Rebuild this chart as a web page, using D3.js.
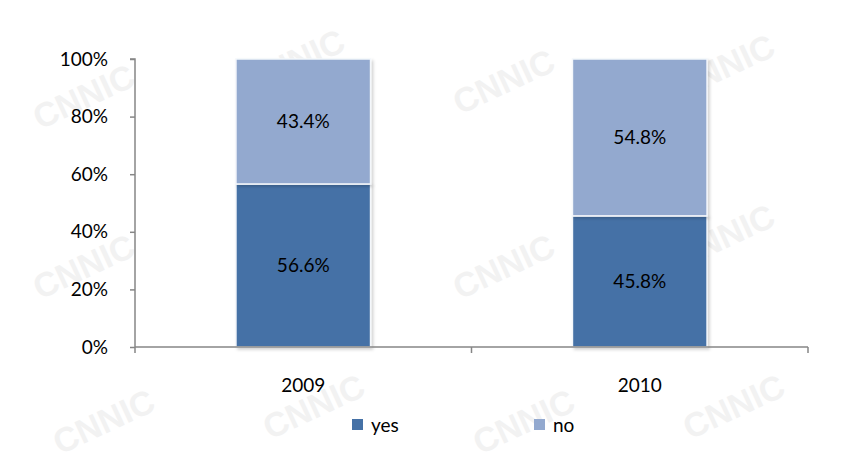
<!DOCTYPE html>
<html>
<head>
<meta charset="utf-8">
<script src="https://cdn.jsdelivr.net/npm/d3@7"></script>
<style>
  html, body { margin: 0; padding: 0; background: #fff; }
  svg { display: block; font-family: Lato, "Open Sans", "Liberation Sans", sans-serif; }
</style>
</head>
<body>
<svg id="chart" width="844" height="461"></svg>
<script>
// Survey answers per year, in percent
const years = ["2009", "2010"];
const yesValues = [56.6, 45.8];
const noValues = [43.4, 54.8];
const seriesNames = ["yes", "no"];
const seriesColors = ["#4571a6", "#93a9cf"];
const yTicks = [0, 20, 40, 60, 80, 100];

const W = 844, H = 461;
const margin = { top: 59, right: 36, bottom: 114, left: 135 };
const innerW = W - margin.left - margin.right;
const innerH = H - margin.top - margin.bottom;
const fontSize = 19;

const svg = d3.select("#chart");

// faint background watermark
const wm = svg.append("g").attr("font-family", "Liberation Sans, sans-serif")
  .attr("font-weight", "bold").attr("font-size", 34).attr("fill", "#f2f2f2");
const wmSpots = [[40, 130], [250, 95], [460, 115], [680, 100],
                 [40, 300], [250, 265], [460, 300], [680, 270],
                 [60, 455], [270, 440], [480, 455], [690, 440]];
wmSpots.forEach(([x, y]) => {
  wm.append("text").attr("transform", `translate(${x},${y}) rotate(-25)`).text("CNNIC");
});

// table of rows for the stack
const rows = years.map((y, i) => ({ year: y, yes: yesValues[i], no: noValues[i] }));
const stacked = d3.stack().keys(seriesNames).offset(d3.stackOffsetExpand)(rows);

const x = d3.scaleBand().domain(years).range([0, innerW]).paddingInner(0.6).paddingOuter(0.3);
const y = d3.scaleLinear().domain([0, 1]).range([innerH, 0]);
const color = d3.scaleOrdinal().domain(seriesNames).range(seriesColors);

const g = svg.append("g").attr("transform", `translate(${margin.left},${margin.top})`);

// bars with a soft drop shadow
const defs = svg.append("defs");
const f = defs.append("filter").attr("id", "shadow").attr("x", "-10%").attr("y", "-10%").attr("width", "130%").attr("height", "130%");
f.append("feDropShadow").attr("dx", 2).attr("dy", 2).attr("stdDeviation", 1.5).attr("flood-color", "#000").attr("flood-opacity", 0.18);

const layers = g.selectAll(".layer").data(stacked).join("g")
  .attr("class", "layer").attr("fill", d => color(d.key));

layers.selectAll("rect").data(d => d).join("rect")
  .attr("x", d => x(d.data.year))
  .attr("y", d => y(d[1]))
  .attr("width", x.bandwidth())
  .attr("height", d => y(d[0]) - y(d[1]))
  .attr("stroke", "#f4f7fb")
  .attr("stroke-width", 1.5)
  .attr("filter", "url(#shadow)");

// value labels
layers.selectAll("text").data(d => d.map(v => ({ v, key: d.key }))).join("text")
  .attr("x", d => x(d.v.data.year) + x.bandwidth() / 2)
  .attr("y", d => (y(d.v[0]) + y(d.v[1])) / 2)
  .attr("dy", "0.35em")
  .attr("text-anchor", "middle")
  .attr("fill", "#000")
  .attr("font-size", fontSize)
  .text(d => d3.format(".1f")(d.v.data[d.key]) + "%");

// y axis
const yAxis = g.append("g")
  .call(d3.axisLeft(y).tickValues(yTicks.map(t => t / 100)).tickSize(5).tickPadding(22)
    .tickFormat(d => Math.round(d * 100) + "%"));
yAxis.select(".domain").attr("stroke", "#868686").attr("stroke-width", 1.5).attr("d", `M-5,0H0V${innerH}`);
yAxis.selectAll(".tick line").attr("stroke", "#868686").attr("stroke-width", 1.5);
yAxis.selectAll(".tick text").attr("font-size", fontSize).attr("fill", "#000")
  .attr("font-family", "Lato, sans-serif");

// x axis with ticks between categories
const xAxisG = g.append("g").attr("transform", `translate(0,${innerH})`);
xAxisG.append("line").attr("x1", 0).attr("x2", innerW).attr("stroke", "#868686").attr("stroke-width", 1.5);
[0, innerW / 2, innerW].forEach(t => {
  xAxisG.append("line").attr("x1", t).attr("x2", t).attr("y1", 0).attr("y2", 6)
    .attr("stroke", "#868686").attr("stroke-width", 1.5);
});
xAxisG.selectAll(".cat").data(years).join("text")
  .attr("class", "cat")
  .attr("x", d => x(d) + x.bandwidth() / 2)
  .attr("y", 45)
  .attr("text-anchor", "middle")
  .attr("font-size", fontSize)
  .attr("fill", "#000")
  .text(d => d);

// legend
const legend = svg.append("g").attr("transform", "translate(352,425)");
const legendX = [0, 182];
seriesNames.forEach((name, i) => {
  const item = legend.append("g").attr("transform", `translate(${legendX[i]},0)`);
  item.append("rect").attr("x", 0).attr("y", -6).attr("width", 11).attr("height", 11).attr("fill", color(name));
  item.append("text").attr("x", 19).attr("y", 0).attr("dy", "0.35em").attr("font-size", fontSize).attr("fill", "#000").text(name);
});
</script>
</body>
</html>
